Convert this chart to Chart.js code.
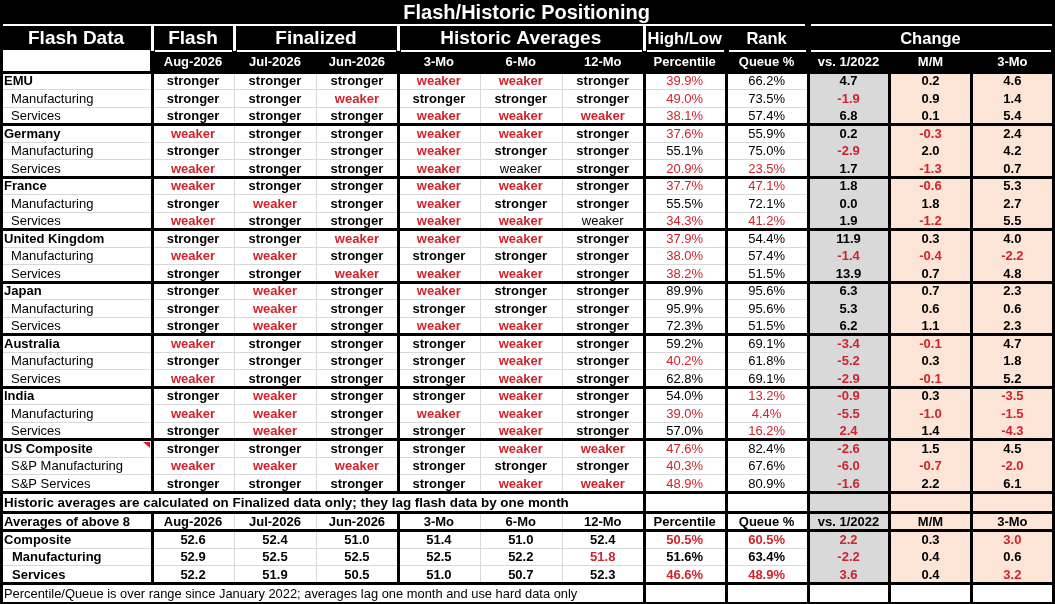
<!DOCTYPE html>
<html>
<head>
<meta charset="utf-8">
<title>Flash/Historic Positioning</title>
<script src="https://cdn.jsdelivr.net/npm/chart.js@4.4.1/dist/chart.umd.min.js"></script>
<style>
  html, body { margin: 0; padding: 0; background: #fff; }
  #wrap { width: 1055px; height: 604px; }
</style>
</head>
<body>
<div id="wrap"><canvas id="posTable" width="1055" height="604"></canvas></div>
<script>
// ---- data ----
const S = 'stronger', W = 'weaker';

const tableTitle = 'Flash/Historic Positioning';
const groupHeaders = ['Flash Data', 'Flash', 'Finalized', 'Historic Averages', 'High/Low', 'Rank', 'Change'];
const subHeaders = ['Aug-2026', 'Jul-2026', 'Jun-2026', '3-Mo', '6-Mo', '12-Mo', 'Percentile', 'Queue %', 'vs. 1/2022', 'M/M', '3-Mo'];

const rowLabels = ['EMU', 'Manufacturing', 'Services', 'Germany', 'Manufacturing', 'Services',
  'France', 'Manufacturing', 'Services', 'United Kingdom', 'Manufacturing', 'Services',
  'Japan', 'Manufacturing', 'Services', 'Australia', 'Manufacturing', 'Services',
  'India', 'Manufacturing', 'Services', 'US Composite', 'S&P Manufacturing', 'S&P Services'];

const flashAug = [S,S,S, W,S,W, W,S,W, S,W,S, S,S,S, W,S,W, S,W,S, S,W,S];
const finJul   = [S,S,S, S,S,S, S,W,S, S,W,S, W,W,W, S,S,S, W,W,W, S,W,S];
const finJun   = [S,W,S, S,S,S, S,S,S, W,S,W, S,S,S, S,S,S, S,S,S, S,W,S];
const hist3Mo  = [W,S,W, W,W,W, W,W,W, W,S,W, W,S,W, S,S,S, S,W,S, S,S,S];
const hist6Mo  = [W,S,W, W,S,W, W,S,W, W,S,W, S,S,W, W,W,W, W,W,W, W,S,W];
const hist12Mo = [S,S,W, S,S,S, S,S,W, S,S,S, S,S,S, S,S,S, S,S,S, W,S,W];

const pctRank  = [39.9,49.0,38.1, 37.6,55.1,20.9, 37.7,55.5,34.3, 37.9,38.0,38.2, 89.9,95.9,72.3, 59.2,40.2,62.8, 54.0,39.0,57.0, 47.6,40.3,48.9];
const queuePct = [66.2,73.5,57.4, 55.9,75.0,23.5, 47.1,72.1,41.2, 54.4,57.4,51.5, 95.6,95.6,51.5, 69.1,61.8,69.1, 13.2,4.4,16.2, 82.4,67.6,80.9];
const vs2022   = [4.7,-1.9,6.8, 0.2,-2.9,1.7, 1.8,0.0,1.9, 11.9,-1.4,13.9, 6.3,5.3,6.2, -3.4,-5.2,-2.9, -0.9,-5.5,2.4, -2.6,-6.0,-1.6];
const chgMM    = [0.2,0.9,0.1, -0.3,2.0,-1.3, -0.6,1.8,-1.2, 0.3,-0.4,0.7, 0.7,0.6,1.1, -0.1,0.3,-0.1, 0.3,-1.0,1.4, 1.5,-0.7,2.2];
const chg3Mo   = [4.6,1.4,5.4, 2.4,4.2,0.7, 5.3,2.7,5.5, 4.0,-2.2,4.8, 2.3,0.6,2.3, 4.7,1.8,5.2, -3.5,-1.5,-4.3, 4.5,-2.0,6.1];

// "weaker" cells the sheet leaves unflagged, and extra flagged cells [row, col]
const mutedCells = [[5, 4], [8, 5]];
const flaggedCells = [[20, 8]];

const avgTitle = 'Averages of above 8';
const avgLabels = ['Composite', 'Manufacturing', 'Services'];
const avgAug   = [52.6, 52.9, 52.2];
const avgJul   = [52.4, 52.5, 51.9];
const avgJun   = [51.0, 52.5, 50.5];
const avg3Mo   = [51.4, 52.5, 51.0];
const avg6Mo   = [51.0, 52.2, 50.7];
const avg12Mo  = [52.4, 51.8, 52.3];
const avgPct   = [50.5, 51.6, 46.6];
const avgQueue = [60.5, 63.4, 48.9];
const avgVs    = [2.2, -2.2, 3.6];
const avgMM    = [0.3, 0.4, 0.4];
const avgChg3  = [3.0, 0.6, 3.2];
const avgFlagged = [[1, 5], [0, 6], [0, 7], [0, 8], [2, 8], [0, 10], [2, 10]];

const noteText = 'Historic averages are calculated on Finalized data only; they lag flash data by one month';
const footText = 'Percentile/Queue is over range since January 2022; averages lag one month and use hard data only';

// ---- layout (in scale units) ----
const X0 = -1.856, X1 = 11.02;
const headerSpans = [[X0, 0], [0, 1], [1, 3], [3, 6], [6, 7], [7, 8], [8, 11]];
const headerSizes = [19, 19, 19, 19, 16.5, 16.5, 16.5];
const RED = '#d0232c';
const FONT = '"Liberation Sans", Arial, sans-serif';

const bands = [];
let yAcc = 0;
function band(kind, h, idx) { bands.push({ kind, idx, top: yAcc, bot: yAcc + h }); yAcc += h; }
band('title', 1.43); band('head', 1.5); band('sub', 1.17);
rowLabels.forEach((_, i) => band('row', 1, i));
band('note', 1.17); band('avgHead', 1.03);
avgLabels.forEach((_, i) => band('avg', 1, i));
band('foot', 1.2);
const findBand = (kind, idx) => bands.find(b => b.kind === kind && (idx === undefined || b.idx === idx));
const mid = b => (b.top + b.bot) / 2;

const mainCols = [flashAug, finJul, finJun, hist3Mo, hist6Mo, hist12Mo, pctRank, queuePct, vs2022, chgMM, chg3Mo];
const avgCols = [avgAug, avgJul, avgJun, avg3Mo, avg6Mo, avg12Mo, avgPct, avgQueue, avgVs, avgMM, avgChg3];
const has = (list, r, c) => list.some(p => p[0] === r && p[1] === c);

function mainCell(c, r, v) {
  if (c <= 5) {
    const muted = has(mutedCells, r, c);
    return { text: v, red: v === W && !muted, bold: !muted };
  }
  if (c <= 7) return { text: v.toFixed(1) + '%', red: v < 50 || has(flaggedCells, r, c), bold: false };
  return { text: v.toFixed(1), red: v < 0 || has(flaggedCells, r, c), bold: true };
}
function avgCell(c, r, v) {
  const flag = has(avgFlagged, r, c);
  if (c === 6 || c === 7) return { text: v.toFixed(1) + '%', red: v < 50 || flag, bold: true };
  return { text: v.toFixed(1), red: (c >= 8 && v < 0) || flag, bold: true };
}

const datasets = mainCols.map((col, c) => {
  const pts = [], cells = [];
  col.forEach((v, r) => { pts.push({ x: c + 0.5, y: mid(findBand('row', r)) }); cells.push(mainCell(c, r, v)); });
  avgCols[c].forEach((v, r) => { pts.push({ x: c + 0.5, y: mid(findBand('avg', r)) }); cells.push(avgCell(c, r, v)); });
  return { label: subHeaders[c], data: pts, cells, align: 'center', pointRadius: 0 };
});
// row label column
{
  const pts = [], cells = [];
  rowLabels.forEach((t, r) => {
    pts.push({ x: X0, y: mid(findBand('row', r)) });
    cells.push({ text: t, red: false, bold: r % 3 === 0, indent: r % 3 === 0 ? 4 : 11 });
  });
  avgLabels.forEach((t, r) => {
    pts.push({ x: X0, y: mid(findBand('avg', r)) });
    cells.push({ text: t, red: false, bold: true, indent: r === 0 ? 4 : 12 });
  });
  datasets.push({ label: 'labels', data: pts, cells, align: 'left', pointRadius: 0 });
}

const tablePlugin = {
  id: 'tablePlugin',
  beforeDatasetsDraw(chart) {
    const { ctx, scales: { x, y } } = chart;
    const px = v => Math.round(x.getPixelForValue(v));
    const py = v => Math.round(y.getPixelForValue(v));
    const rect = (a, b, t, u, col) => { ctx.fillStyle = col; ctx.fillRect(px(a), py(t), px(b) - px(a), py(u) - py(t)); };
    const vline = (u, t, b, w, col, dx = 0) => {
      ctx.fillStyle = col; ctx.fillRect(px(u) - Math.floor(w / 2) + dx, py(t), w, py(b) - py(t));
    };
    const hline = (a, b, u, w, col) => {
      ctx.fillStyle = col; ctx.fillRect(px(a), py(u) - Math.floor(w / 2), px(b) - px(a), w);
    };

    const tB = findBand('title'), hB = findBand('head'), sB = findBand('sub');
    const firstRow = findBand('row', 0), lastRow = findBand('row', rowLabels.length - 1);
    const nB = findBand('note'), aH = findBand('avgHead');
    const aL = findBand('avg', avgLabels.length - 1), fB = findBand('foot');

    ctx.save();
    rect(X0, X1, 0, yAcc, '#ffffff');
    // dark header block
    rect(X0, X1, 0, sB.bot, '#000000');
    ctx.fillStyle = '#ffffff';
    ctx.fillRect(px(X0) + 3, py(sB.top) + 1, px(0) - px(X0) - 5, py(sB.bot) - py(sB.top) - 1);

    // shaded change columns
    rect(8, 9, firstRow.top, aL.bot, '#d9d9d9');
    rect(9, 11, firstRow.top, aL.bot, '#fce4d6');

    // light gridlines
    ctx.fillStyle = '#d8d8d8';
    bands.filter(b => b.kind === 'row' || b.kind === 'avg').forEach(b => {
      ctx.fillRect(px(X0), py(b.top), px(8) - px(X0), 1);
    });
    [1, 2, 4, 5].forEach(u => {
      vline(u, firstRow.top, lastRow.bot, 1, '#d8d8d8');
      vline(u, aH.top, aL.bot, 1, '#d8d8d8');
    });

    // heavy borders
    const K = '#000000';
    [0, 3, 6, 7, 8, 9, 10, 11].forEach(u => {
      vline(u, firstRow.top, lastRow.bot, 3, K);
      vline(u, aH.top, aL.bot, 3, K);
    });
    [6, 7, 8, 9, 10, 11].forEach(u => {
      vline(u, nB.top, nB.bot, 3, K);
      vline(u, fB.top, fB.bot, 3, K);
    });
    vline(X0, sB.top, fB.bot, 3, K, 1);
    bands.filter(b => b.kind === 'row' && b.idx % 3 === 0).forEach(b => hline(X0, X1, b.top, 3, K));
    [nB.top, nB.bot, aH.bot, fB.top].forEach(u => hline(X0, X1, u, 3, K));
    ctx.fillStyle = K;
    ctx.fillRect(px(X0), py(fB.bot) - 2, px(X1) - px(X0), 2);

    // white rules inside the dark header
    ctx.fillStyle = '#ffffff';
    ctx.fillRect(px(X0) + 3, py(tB.bot) - 1, px(8) - px(X0) - 6, 2);
    ctx.fillRect(px(8) + 3, py(tB.bot) - 1, px(11) - px(8) - 4, 2);
    headerSpans.forEach(([a, b]) => {
      ctx.fillRect(px(a) + 3, py(hB.bot) - 1, px(b) - px(a) - 5, 2);
    });
    [0, 1, 3, 6].forEach(u => ctx.fillRect(px(u) - 1, py(hB.top), 3, py(hB.bot) - py(hB.top)));

    // comment marker on the US Composite label cell
    const us = findBand('row', 21);
    ctx.fillStyle = RED;
    ctx.beginPath();
    ctx.moveTo(px(0) - 9, py(us.top) + 3);
    ctx.lineTo(px(0) - 2, py(us.top) + 3);
    ctx.lineTo(px(0) - 2, py(us.top) + 9);
    ctx.closePath();
    ctx.fill();
    ctx.restore();
  },
  afterDatasetsDraw(chart) {
    const { ctx, scales: { x, y } } = chart;
    const px = v => x.getPixelForValue(v);
    const py = v => y.getPixelForValue(v);
    const text = (t, xx, yy, size, bold, color, align) => {
      ctx.font = (bold ? 'bold ' : '') + size + 'px ' + FONT;
      ctx.fillStyle = color;
      ctx.textAlign = align;
      ctx.textBaseline = 'middle';
      ctx.fillText(t, xx, yy);
    };
    ctx.save();
    const tB = findBand('title'), hB = findBand('head'), sB = findBand('sub');
    const nB = findBand('note'), aH = findBand('avgHead'), fB = findBand('foot');

    text(tableTitle, px((X0 + 11) / 2), py(mid(tB)) + 1, 20, true, '#fff', 'center');
    groupHeaders.forEach((t, i) => {
      const [a, b] = headerSpans[i];
      text(t, px((a + b) / 2), py(mid(hB)) + 1, headerSizes[i], true, '#fff', 'center');
    });
    subHeaders.forEach((t, c) => text(t, px(c + 0.5), py(mid(sB)) + 1, 13, true, '#fff', 'center'));

    text(noteText, px(X0) + 4, py(mid(nB)) + 1, 13.4, true, '#000', 'left');
    text(avgTitle, px(X0) + 4, py(mid(aH)) + 1, 13, true, '#000', 'left');
    subHeaders.forEach((t, c) => text(t, px(c + 0.5), py(mid(aH)) + 1, 13, true, '#000', 'center'));
    text(footText, px(X0) + 4, py(mid(fB)) + 1, 12.9, false, '#000', 'left');

    chart.data.datasets.forEach((ds, di) => {
      const meta = chart.getDatasetMeta(di);
      meta.data.forEach((el, i) => {
        const cell = ds.cells[i];
        const xx = ds.align === 'left' ? el.x + cell.indent : el.x;
        text(cell.text, xx, el.y + 1, 13, cell.bold, cell.red ? RED : '#000', ds.align);
      });
    });
    ctx.restore();
  }
};

new Chart(document.getElementById('posTable'), {
  type: 'scatter',
  data: { datasets },
  options: {
    responsive: false,
    animation: false,
    events: [],
    layout: { padding: 0 },
    plugins: { legend: { display: false }, tooltip: { enabled: false } },
    scales: {
      x: { type: 'linear', min: X0, max: X1, display: false },
      y: { type: 'linear', min: 0, max: yAcc, reverse: true, display: false }
    }
  },
  plugins: [tablePlugin]
});
</script>
</body>
</html>
